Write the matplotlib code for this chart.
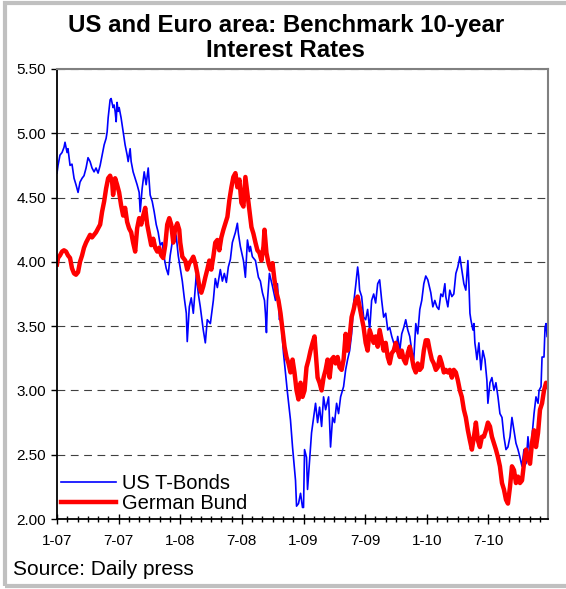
import matplotlib.pyplot as plt
from matplotlib.patches import Rectangle
from matplotlib.ticker import MultipleLocator, FixedLocator, FormatStrFormatter

plt.rcParams['font.family'] = ['Liberation Sans', 'DejaVu Sans']

# x values are months since Jan 2007
us_months = [0.0, 0.1, 0.29, 0.49, 0.68, 0.78, 0.98, 1.07, 1.27, 1.46, 1.66, 1.85, 2.05, 2.24, 2.44,
             2.63, 2.83, 3.02, 3.22, 3.41, 3.61, 3.8, 4.0, 4.2, 4.39, 4.59, 4.78, 4.88, 4.98, 5.17,
             5.27, 5.46, 5.56, 5.66, 5.76, 5.85, 5.95, 6.05, 6.24, 6.44, 6.63, 6.83, 6.93, 7.12, 7.22,
             7.41, 7.61, 7.8, 8.0, 8.1, 8.29, 8.49, 8.68, 8.88, 9.07, 9.27, 9.46, 9.66, 9.85, 10.05,
             10.24, 10.44, 10.63, 10.83, 11.02, 11.22, 11.41, 11.61, 11.8, 12.0, 12.2, 12.39, 12.59,
             12.68, 12.88, 13.07, 13.27, 13.46, 13.56, 13.76, 13.95, 14.24, 14.44, 14.63, 14.93, 15.22,
             15.41, 15.61, 15.9, 16.1, 16.29, 16.49, 16.68, 16.88, 17.07, 17.37, 17.56, 17.66, 17.85,
             18.15, 18.34, 18.54, 18.73, 18.83, 19.02, 19.32, 19.61, 19.8, 20.0, 20.2, 20.29, 20.39,
             20.49, 20.68, 20.98, 21.27, 21.46, 21.66, 21.76, 22.05, 22.24, 22.44, 22.73, 22.93, 23.22,
             23.32, 23.51, 23.71, 23.9, 24.0, 24.1, 24.29, 24.39, 24.59, 24.78, 24.98, 25.17, 25.37,
             25.56, 25.76, 25.95, 26.15, 26.44, 26.63, 26.83, 27.02, 27.22, 27.41, 27.61, 27.9, 28.1,
             28.29, 28.49, 28.68, 28.88, 29.07, 29.27, 29.37, 29.46, 29.66, 29.85, 30.05, 30.24, 30.44,
             30.63, 30.83, 31.02, 31.22, 31.41, 31.61, 31.8, 32.0, 32.2, 32.39, 32.59, 32.78, 32.98,
             33.17, 33.37, 33.56, 33.76, 33.95, 34.15, 34.34, 34.54, 34.73, 34.93, 35.12, 35.32, 35.51,
             35.71, 35.9, 36.1, 36.39, 36.59, 36.78, 36.98, 37.17, 37.37, 37.56, 37.76, 37.85, 38.05,
             38.24, 38.44, 38.63, 38.83, 39.02, 39.22, 39.41, 39.61, 39.8, 40.0, 40.1, 40.2, 40.29,
             40.49, 40.59, 40.68, 40.78, 40.88, 41.07, 41.27, 41.46, 41.66, 41.85, 41.95, 42.15, 42.34,
             42.54, 42.73, 42.93, 43.12, 43.32, 43.51, 43.71, 43.9, 44.1, 44.29, 44.49, 44.68, 44.88,
             45.07, 45.27, 45.46, 45.66, 45.85, 46.05, 46.24, 46.44, 46.63, 46.83, 46.93, 47.12, 47.22,
             47.41, 47.51, 47.61, 47.71]
us_rates = [4.69, 4.75, 4.83, 4.85, 4.89, 4.93, 4.85, 4.88, 4.75, 4.76, 4.65, 4.6, 4.54, 4.62, 4.65,
            4.67, 4.73, 4.81, 4.78, 4.73, 4.7, 4.73, 4.69, 4.75, 4.83, 4.91, 4.96, 5.01, 5.12, 5.26,
            5.27, 5.2, 5.22, 5.17, 5.09, 5.24, 5.17, 5.2, 5.12, 5.01, 4.91, 4.83, 4.78, 4.88, 4.78,
            4.7, 4.65, 4.6, 4.54, 4.39, 4.57, 4.7, 4.6, 4.73, 4.52, 4.47, 4.39, 4.29, 4.23, 4.13,
            4.15, 4.03, 3.95, 3.9, 4.05, 4.15, 4.25, 4.2, 4.05, 3.95, 3.85, 3.72, 3.6,
            3.38, 3.65, 3.72, 3.6, 3.8, 3.9, 3.75, 3.65, 3.47, 3.37, 3.55, 3.52, 3.7,
            3.87, 3.8, 3.94, 3.85, 3.91, 3.84, 3.96, 4.02, 4.15, 4.23, 4.3, 4.22, 4.12,
            4.01, 3.88, 4.17, 4.08, 4.12, 4.04, 4.01, 3.88, 3.85, 3.76, 3.7, 3.6, 3.45,
            3.7, 3.91, 3.81, 3.7, 3.83, 3.55, 3.6, 3.29, 3.14, 2.98, 2.77, 2.56, 2.3,
            2.1, 2.12, 2.2, 2.09, 2.09, 2.54, 2.48, 2.23, 2.46, 2.67, 2.79, 2.9, 2.75,
            2.87, 2.72, 2.95, 2.85, 2.95, 2.56, 2.79, 2.75, 2.9, 2.82, 2.95, 3.03, 3.16,
            3.24, 3.31, 3.44, 3.68, 3.81, 3.96, 3.89, 3.78, 3.73, 3.57, 3.55, 3.63, 3.47,
            3.7, 3.75, 3.68, 3.83, 3.86, 3.7, 3.57, 3.6, 3.47, 3.49, 3.42, 3.37, 3.31,
            3.42, 3.31, 3.44, 3.49, 3.55, 3.47, 3.42, 3.31, 3.24, 3.52, 3.44, 3.63, 3.7,
            3.83, 3.89, 3.86, 3.76, 3.65, 3.7, 3.65, 3.63, 3.75, 3.73, 3.83, 3.73, 3.65,
            3.78, 3.73, 3.75, 3.91, 3.96, 4.04, 3.94, 3.83, 3.78, 4.01, 3.83, 3.6, 3.55,
            3.47, 3.52, 3.37, 3.31, 3.24, 3.37, 3.16, 3.31, 3.24, 3.08, 2.9, 3.06, 3.1,
            3.0, 3.06, 2.95, 2.82, 2.79, 2.64, 2.54, 2.56, 2.64, 2.79, 2.69, 2.59, 2.54,
            2.48, 2.41, 2.54, 2.43, 2.64, 2.48, 2.64, 2.82, 2.95, 2.9, 3.0, 3.03, 3.26,
            3.26, 3.49, 3.52, 3.42]

de_months = [0.0, 0.1, 0.29, 0.49, 0.68, 0.88, 1.07, 1.27, 1.46, 1.66, 1.85, 2.05, 2.24, 2.44, 2.63,
             2.83, 3.02, 3.22, 3.41, 3.61, 3.8, 4.0, 4.2, 4.39, 4.59, 4.78, 4.98, 5.17, 5.37, 5.46,
             5.66, 5.85, 6.05, 6.24, 6.44, 6.63, 6.83, 7.02, 7.22, 7.41, 7.61, 7.8, 8.0, 8.2, 8.39,
             8.59, 8.78, 8.98, 9.17, 9.37, 9.56, 9.76, 9.95, 10.15, 10.34, 10.54, 10.73, 10.93, 11.12,
             11.32, 11.51, 11.71, 11.9, 12.0, 12.2, 12.49, 12.68, 12.88, 13.07, 13.27, 13.46, 13.66,
             13.85, 14.05, 14.24, 14.44, 14.63, 14.83, 15.02, 15.22, 15.41, 15.61, 15.8, 16.0, 16.2,
             16.39, 16.59, 16.78, 16.98, 17.17, 17.37, 17.56, 17.76, 17.95, 18.15, 18.34, 18.54, 18.73,
             18.93, 19.12, 19.32, 19.51, 19.71, 19.9, 20.1, 20.2, 20.39, 20.59, 20.78, 20.98, 21.17,
             21.37, 21.56, 21.76, 21.95, 22.15, 22.34, 22.54, 22.73, 22.93, 23.12, 23.32, 23.51, 23.71,
             23.9, 24.1, 24.29, 24.49, 24.68, 24.88, 25.07, 25.17, 25.37, 25.56, 25.76, 25.95, 26.15,
             26.34, 26.54, 26.73, 26.93, 27.12, 27.32, 27.51, 27.71, 27.9, 28.1, 28.29, 28.49, 28.68,
             28.88, 29.07, 29.27, 29.46, 29.66, 29.85, 30.05, 30.24, 30.44, 30.63, 30.83, 31.02, 31.22,
             31.41, 31.61, 31.8, 32.0, 32.2, 32.39, 32.59, 32.78, 32.98, 33.17, 33.37, 33.56, 33.76,
             33.95, 34.15, 34.34, 34.54, 34.73, 34.93, 35.12, 35.32, 35.51, 35.71, 35.9, 36.1, 36.29,
             36.49, 36.68, 36.88, 37.07, 37.27, 37.46, 37.66, 37.85, 38.05, 38.24, 38.44, 38.63, 38.83,
             39.02, 39.22, 39.41, 39.61, 39.8, 40.0, 40.2, 40.39, 40.59, 40.78, 40.98, 41.17, 41.37,
             41.56, 41.76, 41.95, 42.15, 42.34, 42.54, 42.73, 42.93, 43.12, 43.32, 43.51, 43.71, 43.9,
             44.1, 44.29, 44.49, 44.68, 44.88, 45.07, 45.27, 45.46, 45.66, 45.85, 46.05, 46.24, 46.44,
             46.63, 46.83, 47.02, 47.22, 47.41, 47.61, 47.8]
de_rates = [3.98, 4.03, 4.05, 4.08, 4.09, 4.08, 4.05, 4.03, 3.95, 3.91, 3.9, 3.92, 4.0, 4.05, 4.11,
            4.15, 4.18, 4.21, 4.19, 4.21, 4.23, 4.26, 4.29, 4.39, 4.47, 4.57, 4.65, 4.67, 4.62, 4.52,
            4.65, 4.6, 4.54, 4.44, 4.36, 4.42, 4.31, 4.26, 4.23, 4.15, 4.08, 4.26, 4.34, 4.29, 4.36,
            4.42, 4.29, 4.21, 4.13, 4.18, 4.11, 4.08, 4.11, 4.05, 4.03, 4.13, 4.29, 4.34, 4.29,
            4.15, 4.26, 4.3, 4.25, 4.15, 4.04, 4.01, 3.94, 3.99, 4.01, 4.04, 3.99, 3.91,
            3.81, 3.76, 3.81, 3.88, 3.94, 4.01, 3.94, 4.04, 4.15, 4.17, 4.09, 4.19, 4.25,
            4.3, 4.35, 4.48, 4.58, 4.66, 4.69, 4.58, 4.64, 4.46, 4.43, 4.66, 4.53, 4.4,
            4.27, 4.22, 4.15, 4.09, 4.07, 4.01, 4.12, 4.25, 4.07, 3.99, 3.94, 3.99, 3.86,
            3.76, 3.7, 3.6, 3.47, 3.34, 3.26, 3.21, 3.14, 3.24, 3.14, 3.0, 2.93, 3.06,
            2.95, 3.0, 3.18, 3.24, 3.31, 3.37, 3.42, 3.31, 3.1, 3.06, 3.0, 3.1, 3.16,
            3.24, 3.1, 3.24, 3.26, 3.21, 3.26, 3.18, 3.16, 3.24, 3.44, 3.31, 3.42, 3.57,
            3.63, 3.7, 3.73, 3.65, 3.57, 3.49, 3.37, 3.31, 3.47, 3.42, 3.37, 3.42, 3.34,
            3.47, 3.39, 3.31, 3.37, 3.26, 3.21, 3.29, 3.31, 3.37, 3.31, 3.26, 3.31, 3.24,
            3.21, 3.29, 3.34, 3.26, 3.18, 3.14, 3.21, 3.16, 3.18, 3.31, 3.39, 3.39, 3.31,
            3.24, 3.21, 3.16, 3.18, 3.26, 3.21, 3.14, 3.16, 3.14, 3.16, 3.1, 3.16, 3.14,
            3.08, 3.0, 2.95, 2.85, 2.79, 2.69, 2.61, 2.54, 2.64, 2.75, 2.61, 2.56, 2.64,
            2.64, 2.69, 2.75, 2.72, 2.64, 2.59, 2.54, 2.48, 2.41, 2.28, 2.23, 2.15, 2.12,
            2.25, 2.41, 2.38, 2.28, 2.33, 2.28, 2.3, 2.43, 2.54, 2.48, 2.43, 2.59, 2.69,
            2.56, 2.67, 2.85, 2.9, 3.0, 3.06, 3.03]

tick_months = [0, 6, 12, 18, 24, 30, 36, 42]
tick_labels = ["1-07", "7-07", "1-08", "7-08", "1-09", "7-09", "1-10", "7-10"]

fig = plt.figure(figsize=(5.66, 5.89), dpi=100)
ax = fig.add_axes([0.1007, 0.1188, 0.8675, 0.7641])

ax.plot(us_months, us_rates, color="#0000ff", lw=1.2, label="US T-Bonds")
ax.plot(de_months, de_rates, color="#ff0000", lw=3.2, label="German Bund")

ax.set_xlim(0, 47.8)
ax.set_ylim(2.0, 5.5)
ax.yaxis.set_major_locator(MultipleLocator(0.5))
ax.yaxis.set_major_formatter(FormatStrFormatter("%.2f"))
ax.xaxis.set_major_locator(FixedLocator(tick_months))
ax.set_xticklabels(tick_labels)
ax.xaxis.set_minor_locator(MultipleLocator(1))

ax.grid(axis="y", color="#404040", lw=0.8, dashes=(7, 5))
ax.set_axisbelow(True)
ax.tick_params(axis="x", which="major", direction="inout", length=7, width=1, labelsize=11, pad=7)
ax.tick_params(axis="x", which="minor", direction="inout", length=4, width=1)
ax.tick_params(axis="y", direction="out", length=4, width=1, labelsize=11, pad=4)

for s in ["left", "bottom"]:
    ax.spines[s].set_color("black")
    ax.spines[s].set_linewidth(1.3)
for s in ["top", "right"]:
    ax.spines[s].set_color("#808080")
    ax.spines[s].set_linewidth(1.5)

ax.legend(loc="lower left", bbox_to_anchor=(0.005, 0.008), frameon=False, fontsize=14.5,
          handlelength=2.7, handletextpad=0.3, labelspacing=0.05, borderpad=0.1,
          borderaxespad=0)

fig.text(0.505, 0.977, "US and Euro area: Benchmark 10-year\nInterest Rates", ha="center",
         va="top", fontsize=17.3, fontweight="bold", linespacing=1.12)
fig.text(13 / 566, 1 - 575 / 589, "Source: Daily press", fontsize=15, va="baseline")

fig.patches.append(Rectangle((5 / 566, 3 / 589), 1.0, 583 / 589, transform=fig.transFigure,
                             fill=False, edgecolor="#c0c0c0", lw=3))

fig.savefig("out.png", dpi=100)
